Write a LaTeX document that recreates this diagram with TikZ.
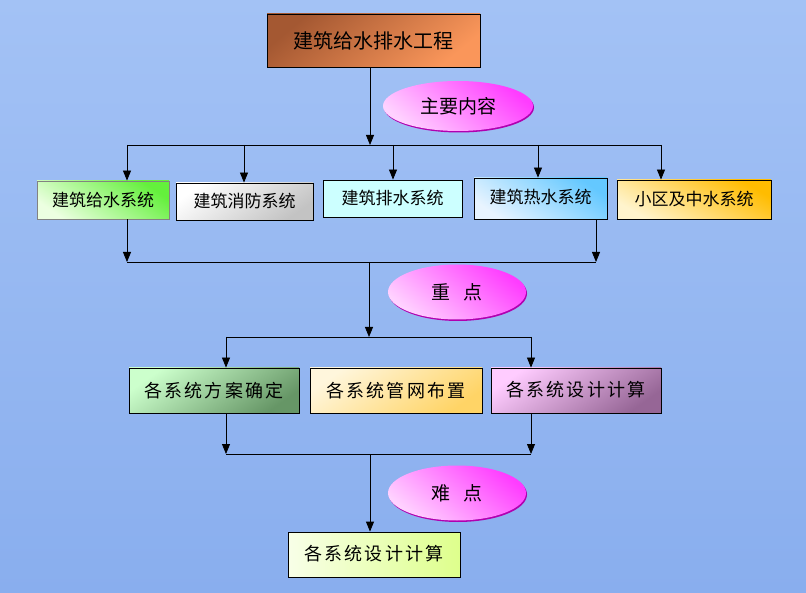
\documentclass[tikz,border=0pt]{standalone}
\usepackage{fontspec}
\usetikzlibrary{arrows.meta,shapes.geometric}
\newfontfamily\cjk{Noto Sans CJK SC}
\newfontfamily\cjkw[LetterSpace=12]{Noto Sans CJK SC}
\definecolor{bgtop}{HTML}{A3C2F5}
\definecolor{bgmid}{HTML}{E3EDFD}
\definecolor{bgbot}{HTML}{89AEEE}
\tikzset{
  box/.style={draw=black, line width=0.8pt, rectangle, inner sep=0pt, font=\cjk\fontsize{17}{20}\selectfont},
  wbox/.style={box, font=\cjkw\fontsize{18}{21}\selectfont},
  oval/.style={ellipse, inner sep=0pt, draw=none, top color=magA, bottom color=magB, shading angle=-40, font=\cjk\fontsize{19}{22}\selectfont},
  ovalsh/.style={ellipse, inner sep=0pt, fill=magD, draw=none},
  conn/.style={line width=0.8pt, draw=black},
  arr/.style={conn, -{Triangle[length=10pt,width=8pt]}},
}
\definecolor{magA}{HTML}{FF3CFF}
\definecolor{magB}{HTML}{FFD2FF}
\definecolor{magD}{HTML}{B000B0}
\begin{document}
\begin{tikzpicture}[x=1pt,y=1pt]
\useasboundingbox (0,0) rectangle (806,-593);
\shade[top color=bgtop, middle color=bgmid, bottom color=bgbot] (0,0) rectangle (806,-593);

% top
\node[box, minimum width=213, minimum height=53, top color={rgb,255:red,164;green,88;blue,50}, bottom color={rgb,255:red,250;green,150;blue,90}, shading angle=40, font=\cjk\fontsize{20}{23}\selectfont] (top) at (373.5,-40.5) {建筑给水排水工程};

% ellipses (with shadow)
\node[ovalsh, minimum width=150, minimum height=50] (e1s) at (459,-107.5) {};
\node[oval, minimum width=150, minimum height=50] (e1) at (458,-106) {主要内容};
\node[ovalsh, minimum width=138, minimum height=55] (e2s) at (458,-293.5) {};
\node[oval, minimum width=138, minimum height=55] (e2) at (457,-292) {重\hspace{0.7em}点};
\node[ovalsh, minimum width=138, minimum height=55] (e3s) at (458,-494.5) {};
\node[oval, minimum width=138, minimum height=55] (e3) at (457,-493) {难\hspace{0.7em}点};

% row 1
\node[box, draw={rgb,255:red,130;green,130;blue,130}, minimum width=132, minimum height=38, top color={rgb,255:red,100;green,240;blue,60}, bottom color={rgb,255:red,236;green,255;blue,225}, shading angle=-35] (s1) at (103,-200) {建筑给水系统};
\node[box, minimum width=137, minimum height=37, top color=white, bottom color={rgb,255:red,195;green,195;blue,195}, shading angle=35] (s2) at (244.5,-201.5) {建筑消防系统};
\node[box, minimum width=139, minimum height=37, fill={rgb,255:red,204;green,255;blue,255}] (s3) at (392.5,-198.5) {建筑排水系统};
\node[box, minimum width=133, minimum height=41, top color={rgb,255:red,100;green,200;blue,255}, bottom color={rgb,255:red,232;green,244;blue,255}, shading angle=-35] (s4) at (540.5,-198.5) {\raisebox{4pt}{建筑热水系统}};
\node[box, minimum width=154, minimum height=39, top color={rgb,255:red,255;green,188;blue,0}, bottom color={rgb,255:red,255;green,244;blue,205}, shading angle=-30] (s5) at (694,-199.5) {小区及中水系统};

% row 2
\node[wbox, minimum width=170, minimum height=45, top color={rgb,255:red,204;green,255;blue,204}, bottom color={rgb,255:red,102;green,150;blue,102}, shading angle=35] (ra) at (214,-390.5) {各系统方案确定};
\node[wbox, minimum width=172, minimum height=45, top color={rgb,255:red,255;green,246;blue,220}, bottom color={rgb,255:red,255;green,212;blue,102}, shading angle=35] (rb) at (396,-390.5) {各系统管网布置};
\node[wbox, minimum width=170, minimum height=45, top color={rgb,255:red,255;green,204;blue,255}, bottom color={rgb,255:red,150;green,102;blue,150}, shading angle=35] (rc) at (576,-390.5) {\raisebox{3pt}{各系统设计计算}};

% final
\node[wbox, minimum width=172, minimum height=45, left color={rgb,255:red,248;green,255;blue,232}, right color={rgb,255:red,222;green,255;blue,140}] (fin) at (374,-554.5) {\raisebox{3pt}{各系统设计计算}};

% connectors level 1
\coordinate (b1) at (370,-145);
\coordinate (b1L) at (127,-145);
\coordinate (b1R) at (661,-145);
\coordinate (t2) at (244,-145);
\coordinate (t3) at (393,-145);
\coordinate (t4) at (538,-145);
\draw[arr] (top.south -| b1) -- (b1);
\draw[conn] (b1L) -- (b1R);
\draw[arr] (b1L) -- (b1L |- s1.north);
\draw[arr] (t2) -- (t2 |- s2.north);
\draw[arr] (t3) -- (t3 |- s3.north);
\draw[arr] (t4) -- (t4 |- s4.north);
\draw[arr] (b1R) -- (b1R |- s5.north);

% level 2
\coordinate (c1) at (127,-262);
\coordinate (c2) at (596,-262);
\coordinate (cm) at (369,-262);
\coordinate (d0) at (369,-337);
\coordinate (d1) at (226,-337);
\coordinate (d2) at (531,-337);
\draw[arr] (s1.south -| c1) -- (c1);
\draw[arr] (s4.south -| c2) -- (c2);
\draw[conn] (c1) -- (c2);
\draw[arr] (cm) -- (d0);
\draw[conn] (d1) -- (d2);
\draw[arr] (d1) -- (d1 |- ra.north);
\draw[arr] (d2) -- (d2 |- rc.north);

% level 3
\coordinate (f1) at (226,-454);
\coordinate (f2) at (531,-454);
\coordinate (fm) at (370,-454);
\draw[arr] (ra.south -| f1) -- (f1);
\draw[arr] (rc.south -| f2) -- (f2);
\draw[conn] (f1) -- (f2);
\draw[arr] (fm) -- (fm |- fin.north);
\end{tikzpicture}
\end{document}
